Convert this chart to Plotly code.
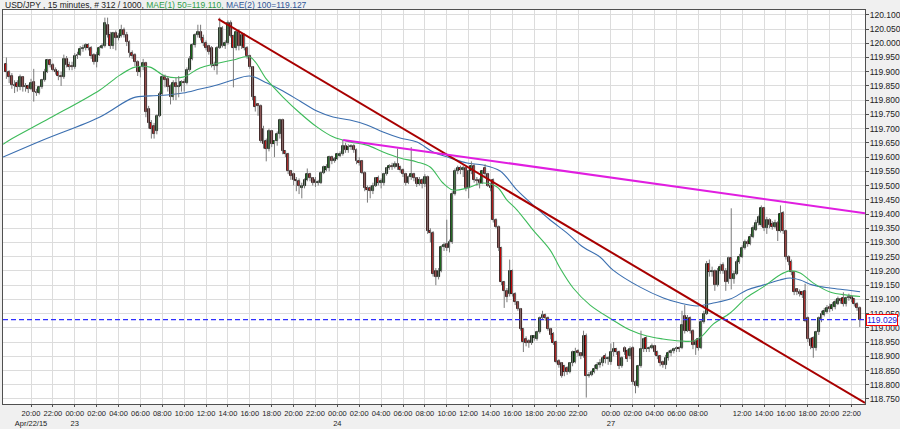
import plotly.graph_objects as go

# ---------------- data ----------------
opens = [
    119.927, 119.898, 119.885, 119.855, 119.860, 119.845, 119.880, 119.845, 119.850, 119.840,
    119.865, 119.830, 119.825, 119.845, 119.870, 119.900, 119.940, 119.925, 119.905, 119.900,
    119.885, 119.880, 119.945, 119.925, 119.920, 119.915, 119.955, 119.960, 119.980, 119.985,
    119.995, 119.985, 119.960, 119.935, 119.960, 119.985, 119.990, 120.065, 120.030, 119.990,
    120.035, 120.020, 120.025, 120.045, 120.030, 120.005, 119.965, 119.960, 119.935, 119.900,
    119.915, 119.930, 119.770, 119.720, 119.710, 119.690, 119.745, 119.820, 119.880, 119.875,
    119.850, 119.810, 119.860, 119.845, 119.850, 119.865, 119.860, 119.905, 119.945, 119.995,
    120.030, 120.040, 120.020, 120.000, 119.990, 119.985, 119.925, 119.920, 119.985, 120.055,
    119.990, 120.000, 120.070, 120.025, 119.985, 120.040, 119.990, 120.030, 119.985, 119.955,
    119.915, 119.810, 119.785, 119.780, 119.700, 119.655, 119.630, 119.690, 119.645, 119.655,
    119.680, 119.730, 119.620, 119.610, 119.550, 119.540, 119.520, 119.515, 119.490, 119.500,
    119.520, 119.540, 119.525, 119.520, 119.510, 119.510, 119.545, 119.555, 119.560, 119.600,
    119.585, 119.595, 119.605, 119.610, 119.640, 119.625, 119.635, 119.640, 119.625, 119.585,
    119.585, 119.545, 119.490, 119.490, 119.480, 119.500, 119.525, 119.510, 119.510, 119.540,
    119.560, 119.570, 119.565, 119.575, 119.565, 119.555, 119.540, 119.510, 119.530, 119.540,
    119.525, 119.505, 119.520, 119.505, 119.530, 119.340, 119.335, 119.200, 119.180, 119.200,
    119.285, 119.295, 119.280, 119.300, 119.470, 119.550, 119.560, 119.555, 119.560, 119.490,
    119.550, 119.570, 119.520, 119.520, 119.510, 119.560, 119.540, 119.500, 119.520, 119.380,
    119.355, 119.280, 119.160, 119.130, 119.120, 119.200, 119.120, 119.090, 119.065, 118.995,
    118.960, 118.955, 118.945, 118.965, 118.960, 118.985, 119.035, 119.045, 119.035, 118.995,
    118.980, 118.950, 118.885, 118.875, 118.865, 118.860, 118.845, 118.875, 118.880, 118.920,
    118.910, 118.900, 118.970, 118.830, 118.835, 118.845, 118.855, 118.870, 118.875, 118.900,
    118.890, 118.880, 118.915, 118.925, 118.915, 118.865, 118.930, 118.920, 118.900, 118.930,
    118.810, 118.795, 118.865, 118.925, 118.965, 118.925, 118.930, 118.935, 118.915, 118.900,
    118.880, 118.870, 118.895, 118.910, 118.920, 118.925, 118.930, 118.930, 119.040, 118.990,
    119.035, 118.990, 118.940, 118.960, 118.930, 119.020, 119.050, 119.225, 119.195, 119.200,
    119.150, 119.200, 119.220, 119.200, 119.160, 119.245, 119.170, 119.190, 119.230, 119.250,
    119.280, 119.300, 119.295, 119.320, 119.345, 119.370, 119.360, 119.420, 119.350, 119.380,
    119.365, 119.355, 119.370, 119.340, 119.405, 119.340, 119.250, 119.230, 119.195, 119.135,
    119.125, 119.125, 119.130, 119.035, 118.960, 118.965, 118.930, 118.985, 119.030, 119.045,
    119.055, 119.075, 119.065, 119.075, 119.085, 119.100, 119.105, 119.085, 119.105, 119.110,
    119.100, 119.085, 119.070,
]
highs = [
    119.950, 119.905, 119.895, 119.870, 119.870, 119.890, 119.885, 119.860, 119.855, 119.875,
    119.910, 119.840, 119.850, 119.875, 119.910, 119.945, 119.945, 119.930, 119.915, 119.905,
    119.900, 119.960, 119.955, 119.935, 119.935, 119.965, 119.970, 119.990, 119.995, 120.000,
    120.000, 119.990, 119.965, 119.970, 119.990, 120.000, 120.090, 120.090, 120.040, 120.040,
    120.045, 120.035, 120.065, 120.055, 120.040, 120.010, 119.975, 119.965, 119.940, 119.920,
    119.945, 119.935, 119.780, 119.730, 119.720, 119.750, 119.830, 119.890, 119.890, 119.885,
    119.855, 119.870, 119.880, 119.885, 119.870, 119.875, 119.915, 119.955, 120.000, 120.035,
    120.065, 120.065, 120.030, 120.010, 119.995, 119.990, 119.935, 119.990, 120.090, 120.060,
    120.010, 120.080, 120.080, 120.030, 120.045, 120.050, 120.035, 120.035, 119.990, 119.960,
    119.920, 119.815, 119.790, 119.785, 119.710, 119.665, 119.700, 119.695, 119.660, 119.690,
    119.735, 119.735, 119.625, 119.615, 119.555, 119.545, 119.530, 119.525, 119.510, 119.525,
    119.560, 119.545, 119.530, 119.530, 119.520, 119.550, 119.570, 119.575, 119.605, 119.605,
    119.600, 119.615, 119.620, 119.660, 119.650, 119.645, 119.645, 119.645, 119.630, 119.600,
    119.590, 119.550, 119.500, 119.500, 119.510, 119.530, 119.535, 119.525, 119.545, 119.565,
    119.575, 119.580, 119.585, 119.630, 119.570, 119.560, 119.545, 119.535, 119.635, 119.545,
    119.530, 119.530, 119.525, 119.540, 119.535, 119.350, 119.340, 119.210, 119.210, 119.290,
    119.300, 119.380, 119.310, 119.480, 119.560, 119.570, 119.570, 119.570, 119.565, 119.555,
    119.585, 119.575, 119.530, 119.525, 119.555, 119.575, 119.545, 119.510, 119.525, 119.385,
    119.360, 119.285, 119.165, 119.140, 119.240, 119.205, 119.125, 119.095, 119.070, 119.000,
    118.970, 118.960, 118.975, 118.975, 118.990, 119.040, 119.060, 119.050, 119.040, 119.000,
    118.985, 118.955, 118.890, 118.880, 118.870, 118.865, 118.880, 118.920, 118.930, 118.925,
    118.915, 118.990, 118.980, 118.845, 118.850, 118.870, 118.880, 118.890, 118.900, 118.910,
    118.900, 118.945, 118.950, 118.930, 118.920, 118.900, 118.935, 118.925, 118.935, 118.935,
    118.815, 118.870, 118.990, 118.965, 118.970, 118.935, 118.945, 118.940, 118.920, 118.905,
    118.885, 118.905, 118.920, 118.925, 118.930, 118.935, 118.935, 119.060, 119.080, 119.045,
    119.040, 118.995, 118.960, 118.965, 119.030, 119.060, 119.235, 119.240, 119.215, 119.205,
    119.210, 119.225, 119.230, 119.210, 119.250, 119.420, 119.200, 119.240, 119.260, 119.290,
    119.310, 119.310, 119.330, 119.360, 119.380, 119.395, 119.430, 119.425, 119.390, 119.385,
    119.375, 119.380, 119.375, 119.430, 119.410, 119.345, 119.255, 119.240, 119.200, 119.140,
    119.135, 119.130, 119.155, 119.040, 118.965, 118.970, 118.990, 119.040, 119.060, 119.070,
    119.080, 119.085, 119.090, 119.100, 119.110, 119.105, 119.125, 119.110, 119.120, 119.115,
    119.105, 119.090, 119.075,
]
lows = [
    119.875, 119.860, 119.840, 119.825, 119.830, 119.835, 119.830, 119.830, 119.825, 119.835,
    119.795, 119.815, 119.820, 119.840, 119.865, 119.895, 119.915, 119.900, 119.890, 119.870,
    119.850, 119.875, 119.915, 119.905, 119.905, 119.910, 119.945, 119.955, 119.970, 119.975,
    119.975, 119.945, 119.925, 119.915, 119.955, 119.980, 119.985, 120.020, 119.980, 119.980,
    119.975, 120.010, 120.020, 120.020, 119.990, 119.950, 119.945, 119.920, 119.885, 119.880,
    119.905, 119.740, 119.700, 119.665, 119.665, 119.680, 119.740, 119.815, 119.845, 119.830,
    119.785, 119.800, 119.800, 119.810, 119.830, 119.830, 119.855, 119.900, 119.940, 119.985,
    120.020, 120.010, 119.990, 119.975, 119.960, 119.915, 119.905, 119.890, 119.980, 119.985,
    119.980, 119.995, 120.020, 119.845, 119.975, 119.975, 119.980, 119.975, 119.945, 119.910,
    119.800, 119.760, 119.745, 119.650, 119.630, 119.585, 119.620, 119.635, 119.600, 119.640,
    119.665, 119.610, 119.600, 119.540, 119.520, 119.500, 119.480, 119.470, 119.455, 119.490,
    119.515, 119.515, 119.500, 119.495, 119.500, 119.505, 119.540, 119.550, 119.550, 119.575,
    119.580, 119.590, 119.600, 119.605, 119.615, 119.615, 119.625, 119.615, 119.575, 119.570,
    119.540, 119.480, 119.440, 119.455, 119.470, 119.495, 119.500, 119.490, 119.500, 119.535,
    119.555, 119.555, 119.560, 119.555, 119.545, 119.530, 119.500, 119.505, 119.520, 119.515,
    119.495, 119.500, 119.490, 119.495, 119.330, 119.300, 119.180, 119.150, 119.170, 119.195,
    119.270, 119.270, 119.265, 119.295, 119.465, 119.540, 119.540, 119.530, 119.480, 119.455,
    119.540, 119.510, 119.500, 119.490, 119.505, 119.530, 119.495, 119.480, 119.370, 119.350,
    119.270, 119.150, 119.070, 119.090, 119.110, 119.110, 119.080, 119.060, 118.990, 118.915,
    118.935, 118.930, 118.940, 118.955, 118.955, 118.980, 119.030, 119.025, 118.990, 118.960,
    118.940, 118.875, 118.860, 118.825, 118.830, 118.835, 118.840, 118.865, 118.875, 118.900,
    118.890, 118.895, 118.755, 118.825, 118.830, 118.840, 118.850, 118.860, 118.865, 118.875,
    118.870, 118.870, 118.900, 118.905, 118.855, 118.860, 118.905, 118.880, 118.890, 118.800,
    118.770, 118.790, 118.860, 118.915, 118.915, 118.915, 118.925, 118.905, 118.890, 118.865,
    118.860, 118.855, 118.885, 118.900, 118.910, 118.915, 118.915, 118.925, 118.980, 118.985,
    118.980, 118.925, 118.905, 118.920, 118.925, 119.015, 119.045, 119.180, 119.180, 119.130,
    119.145, 119.190, 119.190, 119.130, 119.155, 119.135, 119.155, 119.185, 119.225, 119.245,
    119.275, 119.285, 119.290, 119.315, 119.340, 119.360, 119.355, 119.340, 119.330, 119.350,
    119.345, 119.350, 119.305, 119.335, 119.330, 119.240, 119.220, 119.185, 119.115, 119.115,
    119.110, 119.105, 119.020, 118.950, 118.925, 118.895, 118.920, 118.975, 119.020, 119.040,
    119.050, 119.055, 119.060, 119.065, 119.080, 119.085, 119.075, 119.075, 119.095, 119.090,
    119.075, 119.060, 119.003,
]
closes = [
    119.898, 119.880, 119.855, 119.850, 119.845, 119.880, 119.845, 119.850, 119.840, 119.860,
    119.830, 119.825, 119.845, 119.870, 119.900, 119.940, 119.925, 119.905, 119.900, 119.885,
    119.880, 119.945, 119.925, 119.915, 119.915, 119.955, 119.960, 119.980, 119.985, 119.995,
    119.985, 119.955, 119.935, 119.960, 119.985, 119.990, 120.070, 120.030, 119.990, 120.035,
    120.020, 120.025, 120.045, 120.030, 120.005, 119.965, 119.955, 119.935, 119.900, 119.915,
    119.930, 119.760, 119.720, 119.700, 119.680, 119.745, 119.820, 119.880, 119.870, 119.845,
    119.810, 119.860, 119.845, 119.850, 119.865, 119.860, 119.905, 119.945, 119.995, 120.030,
    120.040, 120.020, 120.000, 119.985, 119.970, 119.925, 119.920, 119.985, 120.055, 119.990,
    120.000, 120.070, 120.025, 119.985, 120.040, 119.990, 120.030, 119.985, 119.955, 119.915,
    119.810, 119.775, 119.780, 119.655, 119.645, 119.630, 119.690, 119.645, 119.655, 119.680,
    119.730, 119.620, 119.610, 119.550, 119.535, 119.520, 119.515, 119.500, 119.500, 119.520,
    119.540, 119.525, 119.510, 119.510, 119.510, 119.545, 119.565, 119.565, 119.600, 119.585,
    119.595, 119.610, 119.610, 119.640, 119.625, 119.635, 119.640, 119.625, 119.585, 119.580,
    119.545, 119.490, 119.485, 119.480, 119.500, 119.525, 119.510, 119.515, 119.540, 119.560,
    119.570, 119.565, 119.575, 119.565, 119.555, 119.540, 119.510, 119.530, 119.540, 119.525,
    119.505, 119.520, 119.505, 119.530, 119.340, 119.335, 119.190, 119.180, 119.200, 119.285,
    119.290, 119.280, 119.300, 119.470, 119.550, 119.560, 119.555, 119.560, 119.490, 119.550,
    119.570, 119.520, 119.515, 119.510, 119.550, 119.540, 119.500, 119.490, 119.380, 119.355,
    119.280, 119.160, 119.130, 119.110, 119.200, 119.120, 119.090, 119.065, 118.995, 118.950,
    118.945, 118.945, 118.970, 118.970, 118.985, 119.035, 119.045, 119.035, 118.995, 118.975,
    118.945, 118.880, 118.870, 118.830, 118.845, 118.845, 118.875, 118.915, 118.915, 118.910,
    118.900, 118.970, 118.830, 118.835, 118.845, 118.855, 118.870, 118.875, 118.895, 118.890,
    118.895, 118.915, 118.925, 118.915, 118.865, 118.895, 118.915, 118.890, 118.925, 118.810,
    118.795, 118.865, 118.925, 118.960, 118.925, 118.930, 118.935, 118.915, 118.900, 118.875,
    118.870, 118.895, 118.910, 118.920, 118.925, 118.930, 118.925, 119.010, 118.990, 119.035,
    118.990, 118.940, 118.950, 118.930, 119.020, 119.050, 119.225, 119.195, 119.200, 119.150,
    119.200, 119.215, 119.200, 119.160, 119.245, 119.170, 119.190, 119.230, 119.250, 119.280,
    119.300, 119.295, 119.320, 119.350, 119.370, 119.390, 119.420, 119.350, 119.380, 119.360,
    119.355, 119.370, 119.340, 119.400, 119.340, 119.250, 119.230, 119.195, 119.125, 119.125,
    119.120, 119.115, 119.025, 118.960, 118.935, 118.930, 118.985, 119.035, 119.050, 119.060,
    119.070, 119.065, 119.080, 119.090, 119.100, 119.095, 119.085, 119.105, 119.110, 119.100,
    119.085, 119.070, 119.029,
]

# moving averages (bar index, price)
ma50_idx = [-1.2, 1.2, 15.9, 34.2, 41.5, 47, 52.5, 58, 64.6, 70.8, 82.8, 89, 95.3, 101.1,
            107.3, 113.5, 119.4, 125.6, 131.8, 137.7, 143.9, 150.1, 154.9, 159.6, 163.3,
            168.4, 174.3, 179.4, 183, 186.7, 192.5, 198.8, 202.4, 207.2, 213.4, 221.8, 228,
            234.2, 240, 246.3, 251.1, 254.3, 258.4, 264.6, 270.8, 276.6, 282.8, 286.5, 290.2,
            294.9, 301.1, 307.3, 312.1]
ma50_val = [119.645, 119.66, 119.737, 119.836, 119.888, 119.916, 119.916, 119.885, 119.881,
            119.913, 119.941, 119.952, 119.871, 119.811, 119.755, 119.706, 119.671, 119.653,
            119.642, 119.618, 119.597, 119.583, 119.565, 119.509, 119.484, 119.491, 119.509,
            119.495, 119.449, 119.414, 119.344, 119.273, 119.21, 119.14, 119.08, 119.027,
            118.992, 118.971, 118.961, 118.954, 118.954, 118.971, 119.013, 119.052, 119.108,
            119.143, 119.186, 119.2, 119.193, 119.158, 119.126, 119.115, 119.11]
ma100_idx = [-1.2, 13.4, 34.2, 46.3, 52.5, 58.7, 64.6, 70.8, 77, 82.8, 89, 95.3, 101.1, 107.3,
             113.5, 119.4, 125.6, 131.8, 137.7, 143.9, 150.1, 156, 162.2, 168.4, 174.3, 180.5,
             186.7, 192.5, 198.8, 205, 210.8, 217, 221.8, 231.7, 240.2, 246.3, 252.5, 258.4,
             264.6, 270.8, 276.6, 282.8, 286.5, 290.2, 294.9, 301.1, 307.3, 312.1]
ma100_val = [119.6, 119.66, 119.741, 119.808, 119.815, 119.818, 119.825, 119.839, 119.853,
             119.871, 119.885, 119.86, 119.832, 119.797, 119.762, 119.741, 119.73, 119.713,
             119.688, 119.667, 119.653, 119.618, 119.597, 119.579, 119.572, 119.551, 119.484,
             119.432, 119.379, 119.333, 119.284, 119.249, 119.203, 119.143, 119.105, 119.087,
             119.077, 119.087, 119.101, 119.133, 119.15, 119.168, 119.175, 119.168, 119.15,
             119.14, 119.133, 119.127]

# hand-drawn trend lines (bar index, price)
trend_red_x = [77.5, 313.9]
trend_red_y = [120.085, 118.736]
trend_mag_x = [123.1, 313.9]
trend_mag_y = [119.660, 119.403]

last_price = 119.029

tick_idx = [9, 17, 25, 33, 41, 49, 57, 65, 73, 81, 89, 97, 105, 113, 121, 129, 137, 145,
            153, 161, 169, 177, 185, 193, 201, 209,
            221, 229, 237, 245, 253, 261, 269, 277, 285, 293, 301, 309]
tick_text = ["20:00<br>Apr/22/15", "22:00",
             "00:00<br>23", "02:00", "04:00", "06:00", "08:00", "10:00", "12:00", "14:00",
             "16:00", "18:00", "20:00", "22:00",
             "00:00<br>24", "02:00", "04:00", "06:00", "08:00", "10:00", "12:00", "14:00",
             "16:00", "18:00", "20:00", "22:00",
             "00:00<br>27", "02:00", "04:00", "06:00", "08:00", "", "12:00", "14:00",
             "16:00", "18:00", "20:00", "22:00"]

header_plain = "USD/JPY , 15 minutes, # 312 / 1000, "
header_ma1 = "MAE(1) 50=119.110,"
header_ma2 = "MAE(2) 100=119.127"

# ---------------- figure ----------------
FONT = "Liberation Sans, Arial, sans-serif"
idx = list(range(len(closes)))

wick_x, wick_y = [], []
for i, lo, hi in zip(idx, lows, highs):
    wick_x += [i, i, None]
    wick_y += [lo, hi, None]

up_x, up_base, up_h, dn_x, dn_base, dn_h = [], [], [], [], [], []
for i, o, c in zip(idx, opens, closes):
    h = max(abs(c - o), 0.0012)
    if c >= o:
        up_x.append(i); up_base.append(min(o, c)); up_h.append(h)
    else:
        dn_x.append(i); dn_base.append(min(o, c)); dn_h.append(h)

fig = go.Figure()
fig.add_trace(go.Scatter(x=ma100_idx, y=ma100_val, mode="lines",
                         line=dict(color="#3b6fb0", width=1.1, shape="spline"), hoverinfo="skip"))
fig.add_trace(go.Scatter(x=ma50_idx, y=ma50_val, mode="lines",
                         line=dict(color="#3dbb5a", width=1.1, shape="spline"), hoverinfo="skip"))
fig.add_trace(go.Scatter(x=wick_x, y=wick_y, mode="lines",
                         line=dict(color="#7a7a7a", width=1), hoverinfo="skip"))
fig.add_trace(go.Bar(x=up_x, y=up_h, base=up_base, width=0.72,
                     marker=dict(color="#0a6e0a", line=dict(color="#000000", width=0.8))))
fig.add_trace(go.Bar(x=dn_x, y=dn_h, base=dn_base, width=0.72,
                     marker=dict(color="#d40000", line=dict(color="#000000", width=0.8))))
fig.add_trace(go.Scatter(x=trend_red_x, y=trend_red_y, mode="lines",
                         line=dict(color="#a80000", width=2), hoverinfo="skip"))
fig.add_trace(go.Scatter(x=trend_mag_x, y=trend_mag_y, mode="lines",
                         line=dict(color="#e01ee0", width=2), hoverinfo="skip"))

fig.add_shape(type="line", xref="paper", x0=0, x1=1, yref="y", y0=last_price, y1=last_price,
              line=dict(color="#3030ff", width=1.2, dash="5px,3px"))

fig.add_annotation(xref="paper", x=1, yref="y", y=last_price, xanchor="left", yanchor="middle",
                   text=f"{last_price:.3f}", showarrow=False, xshift=1,
                   font=dict(family=FONT, size=8.5, color="#2020e0"),
                   bgcolor="white", bordercolor="#ff0000", borderwidth=1, borderpad=0)

fig.add_annotation(xref="paper", x=0, yref="paper", y=1, xanchor="left", yanchor="middle",
                   yshift=5.5, showarrow=False, align="left",
                   text=(f"<span style='color:#222222'>{header_plain}</span>"
                         f"<span style='color:#2e9e4a'>{header_ma1}</span> "
                         f"<span style='color:#2f5597'>{header_ma2}</span>"),
                   font=dict(family=FONT, size=8.5, color="#222222"))

fig.update_layout(
    width=900, height=429,
    margin=dict(l=3, r=35, t=10, b=25, autoexpand=False),
    paper_bgcolor="#f0f0f0", plot_bgcolor="#ffffff",
    showlegend=False, barmode="overlay", bargap=0,
    font=dict(family=FONT, size=8, color="#222222"),
    xaxis=dict(range=[-1.24, 313.9], tickmode="array", tickvals=tick_idx, ticktext=tick_text,
               tickangle=0, automargin=False,
               showgrid=True, gridcolor="#dcdcdc", gridwidth=1, zeroline=False,
               showline=True, mirror=True, linecolor="#505050", linewidth=1,
               ticks="outside", ticklen=2, tickcolor="#505050",
               tickfont=dict(family=FONT, size=7.5, color="#222222"), fixedrange=True),
    yaxis=dict(range=[118.7324, 120.1168], side="right", tick0=118.75, dtick=0.05,
               tickformat=".3f", automargin=False, showgrid=True, gridcolor="#dcdcdc",
               gridwidth=1, zeroline=False, showline=True, mirror=True, linecolor="#505050",
               linewidth=1, ticks="outside", ticklen=3, tickcolor="#505050",
               ticklabelstandoff=-1,
               tickfont=dict(family=FONT, size=8.5, color="#222222"), fixedrange=True),
)

fig.write_html("out.html", config={"displayModeBar": False},
               post_script="document.body.style.margin='0';document.body.style.padding='0';")
